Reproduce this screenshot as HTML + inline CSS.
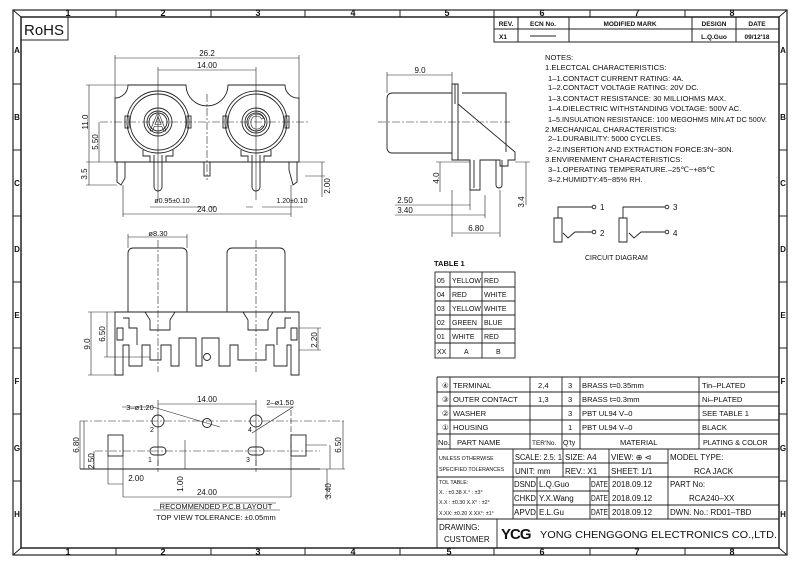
<!DOCTYPE html>
<html><head><meta charset="utf-8"><style>
html,body{margin:0;padding:0;background:#fff}
svg{display:block}
text{font-family:"Liberation Sans",sans-serif;fill:#111}
</style></head><body>
<svg width="800" height="565" viewBox="0 0 800 565" xmlns="http://www.w3.org/2000/svg">
<g fill="none" stroke="#222" stroke-width="1">
<rect x="13" y="10" width="774" height="545" stroke-width="1.2"/>
<rect x="21" y="17" width="758" height="531" stroke-width="1.5"/>
<path d="M13 10L21 17M787 10L779 17M13 555L21 548M787 555L779 548"/>
<path d="M116 10V17M211 10V17M305 10V17M400 10V17M494 10V17M590 10V17M685 10V17"/>
<path d="M116 548V555M211 548V555M305 548V555M400 548V555M494 548V555M590 548V555M685 548V555"/>
<path d="M13 84H21M13 150H21M13 216H21M13 282H21M13 348H21M13 414H21M13 481H21"/>
<path d="M779 84H787M779 150H787M779 216H787M779 282H787M779 348H787M779 414H787M779 481H787"/>
<path d="M21 40H68V17"/>
<rect x="494" y="17" width="285" height="25"/>
<path d="M494 29H779M518 17V42M569 17V42M692 17V42M736 17V42M530 36H556"/>
</g>
<g font-size="9" font-weight="bold" text-anchor="middle">
<text x="68" y="16">1</text><text x="163" y="16">2</text><text x="258" y="16">3</text><text x="353" y="16">4</text><text x="447" y="16">5</text><text x="542" y="16">6</text><text x="637" y="16">7</text><text x="732" y="16">8</text>
<text x="68" y="555">1</text><text x="163" y="555">2</text><text x="258" y="555">3</text><text x="353" y="555">4</text><text x="449" y="555">5</text><text x="542" y="555">6</text><text x="637" y="555">7</text><text x="732" y="555">8</text>
<g font-size="8"><text x="17" y="53">A</text><text x="17" y="120">B</text><text x="17" y="186">C</text><text x="17" y="252">D</text><text x="17" y="318">E</text><text x="17" y="384">F</text><text x="17" y="451">G</text><text x="17" y="517">H</text>
<text x="783" y="53">A</text><text x="783" y="120">B</text><text x="783" y="186">C</text><text x="783" y="252">D</text><text x="783" y="318">E</text><text x="783" y="384">F</text><text x="783" y="451">G</text><text x="783" y="517">H</text></g>
</g>
<text x="24" y="35" font-size="15">RoHS</text>
<g font-size="6.5" font-weight="bold" text-anchor="middle">
<text x="506" y="26">REV.</text><text x="543" y="26">ECN No.</text><text x="630" y="26">MODIFIED MARK</text><text x="714" y="26">DESIGN</text><text x="757" y="26">DATE</text>
<text x="503" y="39">X1</text><text x="714" y="39">L.Q.Guo</text><text x="757" y="39">09/12'18</text>
</g>

<g fill="none" stroke="#222" stroke-width="0.9">
<path d="M115 162V98A13 13 0 0 0 128 85H186A21 21 0 0 0 228 85H285A13 13 0 0 0 299 98V162Z"/>
<circle cx="158" cy="122" r="31"/><circle cx="158" cy="122" r="28"/><circle cx="158" cy="122" r="14"/><circle cx="158" cy="122" r="11"/><circle cx="158" cy="122" r="9"/>
<circle cx="256" cy="122" r="31"/><circle cx="256" cy="122" r="28"/><circle cx="256" cy="122" r="14"/><circle cx="256" cy="122" r="11"/><circle cx="256" cy="122" r="9"/>
<rect x="125" y="116" width="4" height="12"/><rect x="187" y="116" width="4" height="12"/><rect x="223" y="116" width="4" height="12"/><rect x="285" y="116" width="4" height="12"/>
<path d="M143 150V156H150V162M173 150V156H166V162M241 150V156H248V162M271 150V156H264V162"/>
<path d="M154 155V187A4 4 0 0 0 162 187V155M252 155V187A4 4 0 0 0 260 187V155"/>
<path d="M117 162V182L121 185L125 178V162M297 162V182L293 185L289 170V162"/>
<rect x="204" y="162" width="6" height="14"/>
<path d="M115 58H299M115 55V98M299 55V98M158 70H256M158 67V200M256 67V200M89 85V162M86 85H128M99 122V162M86 162H115M89 162V185M86 185H117M322 162V197M299 162H325M305 176H325M123 214H291M123 185V217M291 185V217M150 207H203M210 207H215M246 207H253M262 207H303" stroke-width="0.6"/>
<path d="M100 122H310M207 94V180" stroke-dasharray="8,2,2,2" stroke-width="0.6"/>
</g>
<g font-size="8" text-anchor="middle">
<text x="207" y="56">26.2</text><text x="207" y="68">14.00</text><text x="207" y="212">24.00</text>
<text x="172" y="203" font-size="7">ø0.95±0.10</text><text x="292" y="203" font-size="7">1.20±0.10</text>
<text transform="translate(88,122) rotate(-90)">11.0</text><text transform="translate(98,142) rotate(-90)">5.50</text>
<text transform="translate(87,174) rotate(-90)">3.5</text><text transform="translate(330,186) rotate(-90)">2.00</text>
</g>
<g text-anchor="middle"><text x="158" y="131" font-size="24" style="fill:none;stroke:#222;stroke-width:0.6">A</text><text x="256" y="131" font-size="24" style="fill:none;stroke:#222;stroke-width:0.6">C</text></g>

<g fill="none" stroke="#222" stroke-width="0.9">
<path d="M452 93H392A5 5 0 0 0 387 98V148A5 5 0 0 0 392 153H452"/>
<path d="M452 84H458V104L515 152V160H508V166H500V160H480V190H470V160H452Z"/>
<path d="M458 84V160M455 84V104M462 93H506V152"/>
<path d="M470 160V190M474 160V188M496 160V185A3 3 0 0 0 502 185V160"/>
<path d="M387 75H452M387 72V93M452 72V84M440 162V192M436 162H470M526 162V205M515 162H530M395 205H470M395 215H485M452 233H500M452 190V237M500 190V237M470 190V210M485 195V218" stroke-width="0.6"/>
<path d="M378 122H510" stroke-dasharray="8,2,2,2" stroke-width="0.6"/>
</g>
<g font-size="8" text-anchor="middle">
<text x="420" y="73">9.0</text><text x="405" y="203">2.50</text><text x="405" y="213">3.40</text><text x="476" y="231">6.80</text>
<text transform="translate(439,178) rotate(-90)">4.0</text><text transform="translate(524,202) rotate(-90)">3.4</text>
</g>

<g font-size="7.6">
<text x="545" y="60">NOTES:</text>
<text x="545" y="70">1.ELECTCAL CHARACTERISTICS:</text>
<text x="548" y="81">1–1.CONTACT CURRENT RATING:    4A.</text>
<text x="548" y="90">1–2.CONTACT VOLTAGE RATING: 20V DC.</text>
<text x="548" y="101">1–3.CONTACT RESISTANCE:  30 MILLIOHMS MAX.</text>
<text x="548" y="111">1–4.DIELECTRIC WITHSTANDING VOLTAGE:  500V AC.</text>
<text x="548" y="122" textLength="219" lengthAdjust="spacingAndGlyphs">1–5.INSULATION RESISTANCE:  100 MEGOHMS MIN.AT DC 500V.</text>
<text x="545" y="132">2.MECHANICAL CHARACTERISTICS:</text>
<text x="548" y="141">2–1.DURABILITY:  5000 CYCLES.</text>
<text x="548" y="152">2–2.INSERTION AND EXTRACTION FORCE:3N~30N.</text>
<text x="545" y="162">3.ENVIRENMENT CHARACTERISTICS:</text>
<text x="548" y="172">3–1.OPERATING TEMPERATURE.–25℃~+85℃</text>
<text x="548" y="182">3–2.HUMIDTY:45~85% RH.</text>
</g>
<g fill="none" stroke="#222" stroke-width="0.9">
<path d="M554 242V218H562V242ZM558 218V207H592M563 233L568 238L575 232H592"/>
<circle cx="594" cy="207" r="1.8"/><circle cx="594" cy="232" r="1.8"/>
<path d="M619 242V218H627V242ZM623 218V207H665M629 233L634 238L641 232H665"/>
<circle cx="667" cy="207" r="1.8"/><circle cx="667" cy="232" r="1.8"/>
</g>
<g font-size="8"><text x="600" y="210">1</text><text x="600" y="236">2</text><text x="673" y="210">3</text><text x="673" y="236">4</text>
<text x="585" y="260" font-size="7">CIRCUIT DIAGRAM</text></g>

<text x="434" y="266" font-size="7.5" font-weight="bold">TABLE 1</text>
<g fill="none" stroke="#222" stroke-width="0.9">
<rect x="435" y="272" width="80" height="86"/>
<path d="M450 272V358M482 272V358M435 287H515M435 301H515M435 315H515M435 329H515M435 343H515"/>
</g>
<g font-size="7">
<text x="437" y="283">05</text><text x="452" y="283" textLength="29" lengthAdjust="spacingAndGlyphs">YELLOW</text><text x="484" y="283">RED</text>
<text x="437" y="297">04</text><text x="452" y="297">RED</text><text x="484" y="297">WHITE</text>
<text x="437" y="311">03</text><text x="452" y="311" textLength="29" lengthAdjust="spacingAndGlyphs">YELLOW</text><text x="484" y="311">WHITE</text>
<text x="437" y="325">02</text><text x="452" y="325">GREEN</text><text x="484" y="325">BLUE</text>
<text x="437" y="339">01</text><text x="452" y="339">WHITE</text><text x="484" y="339">RED</text>
<text x="437" y="354">XX</text><text x="464" y="354">A</text><text x="496" y="354">B</text>
</g>

<g fill="none" stroke="#222" stroke-width="0.9">
<path d="M128 312V253A5 5 0 0 1 133 248H182A5 5 0 0 1 187 253V312M227 312V253A5 5 0 0 1 232 248H280A5 5 0 0 1 285 253V312"/>
<path d="M115 312H299V375H291V345H287V366H274V345H266V360H238V345H230V366H219V338H202V366H196V338H179V366H171V345H161V360H150V345H142V366H129V345H123V375H115Z"/>
<path d="M145 312L150 320V330H170V320L175 312M243 312L248 320V330H268V320L273 312"/>
<path d="M123 318H129V328H137V345M291 318H285V328H277V345M117 328H123V340H117ZM297 328H291V340H297Z"/>
<circle cx="207" cy="357" r="3.5"/>
<path d="M128 237H187M128 234V248M187 234V248M91 312V375M88 312H115M88 375H115M107 312V357M104 357H150M318 328V350M299 328H321M299 350H321" stroke-width="0.6"/>
<path d="M158 240V372M256 240V372" stroke-dasharray="8,2,2,2" stroke-width="0.6"/>
</g>
<g font-size="8" text-anchor="middle">
<text x="158" y="236" font-size="7.5">ø8.30</text>
<text transform="translate(90,344) rotate(-90)">9.0</text><text transform="translate(105,334) rotate(-90)">6.50</text><text transform="translate(317,340) rotate(-90)">2.20</text>
</g>

<g fill="none" stroke="#222" stroke-width="0.9">
<circle cx="158" cy="421" r="6"/><circle cx="207" cy="423" r="4.5"/><circle cx="256" cy="421" r="6"/>
<rect x="150" y="447" width="16" height="8" rx="4"/><rect x="248" y="447" width="16" height="8" rx="4"/>
<rect x="108" y="435" width="15" height="21"/><rect x="291" y="435" width="15" height="21"/>
<path d="M80 469H320" stroke-width="1"/>
<path d="M158 404H256M158 400V466M256 400V466M122 407H153L220 427M267 407H293L252 433M80 421V469M84 421V469M94 451V469M108 456V484M108 484H123M123 456V497M123 497H291M291 456V497M185 440V469M306 445H327M330 445V469M343 421V469M320 469H345M327 469V500" stroke-width="0.6"/>
<path d="M80 421H345M95 451H320" stroke-dasharray="8,2,2,2" stroke-width="0.6"/>
<path d="M158 460V472M256 460V472M291 410V460" stroke-dasharray="6,2" stroke-width="0.6"/>
<path d="M160 503H276M153 510H280" stroke-width="0.6"/>
</g>
<g font-size="8" text-anchor="middle">
<text x="207" y="402">14.00</text><text x="140" y="410" font-size="7.5">3–ø1.20</text><text x="280" y="405" font-size="7.5">2–ø1.50</text>
<text x="152" y="432" font-size="7">2</text><text x="150" y="462" font-size="7">1</text><text x="248" y="462" font-size="7">3</text><text x="250" y="432" font-size="7">4</text>
<text x="136" y="481">2.00</text><text x="207" y="495">24.00</text>
<text transform="translate(79,445) rotate(-90)">6.80</text><text transform="translate(94,461) rotate(-90)">2.50</text>
<text transform="translate(183,484) rotate(-90)">1.00</text><text transform="translate(341,445) rotate(-90)">6.50</text><text transform="translate(331,491) rotate(-90)">3.40</text>
<text x="216" y="509" font-size="7.5">RECOMMENDED  P.C.B  LAYOUT</text>
<text x="216" y="520" font-size="7.5">TOP  VIEW  TOLERANCE: ±0.05mm</text>
</g>

<g fill="none" stroke="#222" stroke-width="0.9">
<path d="M437 377H779M437 377V548M437 392H779M437 406H779M437 420H779M437 434H779M437 449H779M513 463H668M437 477H779M513 491H609M513 505H779M437 519H779"/>
<path d="M450 377V449M530 377V449M562 377V449M580 377V449M699 377V449"/>
<path d="M513 449V519M563 449V477M609 449V477M668 449V519M537 477V519M590 477V519M609 477V519M497 519V548"/>
</g>
<g font-size="7.6">
<text x="442" y="388">④</text><text x="453" y="388">TERMINAL</text><text x="538" y="388">2,4</text><text x="568" y="388">3</text><text x="582" y="388">BRASS  t=0.35mm</text><text x="702" y="388">Tin–PLATED</text>
<text x="442" y="402">③</text><text x="453" y="402">OUTER  CONTACT</text><text x="538" y="402">1,3</text><text x="568" y="402">3</text><text x="582" y="402">BRASS  t=0.3mm</text><text x="702" y="402">Ni–PLATED</text>
<text x="442" y="416">②</text><text x="453" y="416">WASHER</text><text x="568" y="416">3</text><text x="582" y="416">PBT  UL94  V–0</text><text x="702" y="416">SEE  TABLE  1</text>
<text x="442" y="430">①</text><text x="453" y="430">HOUSING</text><text x="568" y="430">1</text><text x="582" y="430">PBT  UL94  V–0</text><text x="702" y="430">BLACK</text>
<text x="438" y="445">No.</text><text x="457" y="445">PART  NAME</text><text x="532" y="445" font-size="6.5">TER'No.</text><text x="563" y="445" font-size="7">Q'ty</text><text x="620" y="445">MATERIAL</text><text x="703" y="445" font-size="7.2">PLATING  &amp;  COLOR</text>
<text x="439" y="460" font-size="5.3">UNLESS  OTHERWISE</text><text x="439" y="471" font-size="5.3">SPECIFIED  TOLERANCES</text>
<text x="515" y="460" font-size="8" textLength="47" lengthAdjust="spacingAndGlyphs">SCALE: 2.5: 1</text><text x="565" y="460" font-size="8">SIZE:  A4</text><text x="611" y="460" font-size="8">VIEW: ⊕ ⊲</text><text x="670" y="460" font-size="8">MODEL  TYPE:</text>
<text x="515" y="474" font-size="8">UNIT:  mm</text><text x="565" y="474" font-size="8">REV.:  X1</text><text x="611" y="474" font-size="8">SHEET:  1/1</text><text x="694" y="474" font-size="8">RCA   JACK</text>
<text x="439" y="484" font-size="5.3">TOL  TABLE:</text><text x="439" y="494" font-size="5.3">X.  : ±0.38    X.° : ±3°</text><text x="439" y="504" font-size="5.3">X.X : ±0.30   X.X° : ±2°</text><text x="439" y="515" font-size="5.3">X.XX: ±0.20  X.XX°: ±1°</text>
<g font-size="8">
<text x="514" y="487" textLength="22" lengthAdjust="spacingAndGlyphs">DSND</text><text x="539" y="487">L.Q.Guo</text><text x="591" y="487" textLength="17" lengthAdjust="spacingAndGlyphs">DATE</text><text x="612" y="487">2018.09.12</text><text x="670" y="487">PART  No:</text>
<text x="514" y="501" textLength="22" lengthAdjust="spacingAndGlyphs">CHKD</text><text x="539" y="501">Y.X.Wang</text><text x="591" y="501" textLength="17" lengthAdjust="spacingAndGlyphs">DATE</text><text x="612" y="501">2018.09.12</text><text x="689" y="501">RCA240–XX</text>
<text x="514" y="515" textLength="22" lengthAdjust="spacingAndGlyphs">APVD</text><text x="539" y="515">E.L.Gu</text><text x="591" y="515" textLength="17" lengthAdjust="spacingAndGlyphs">DATE</text><text x="612" y="515">2018.09.12</text><text x="670" y="515">DWN.  No.:  RD01–TBD</text>
<text x="439" y="530">DRAWING:</text><text x="444" y="542">CUSTOMER</text>
<text x="501" y="539" font-size="15" font-weight="bold" letter-spacing="-1">YCG</text>
<text x="540" y="538" font-size="10.5" textLength="237" lengthAdjust="spacingAndGlyphs">YONG  CHENGGONG  ELECTRONICS  CO.,LTD.</text>
</g>
</g>
</svg>
</body></html>
